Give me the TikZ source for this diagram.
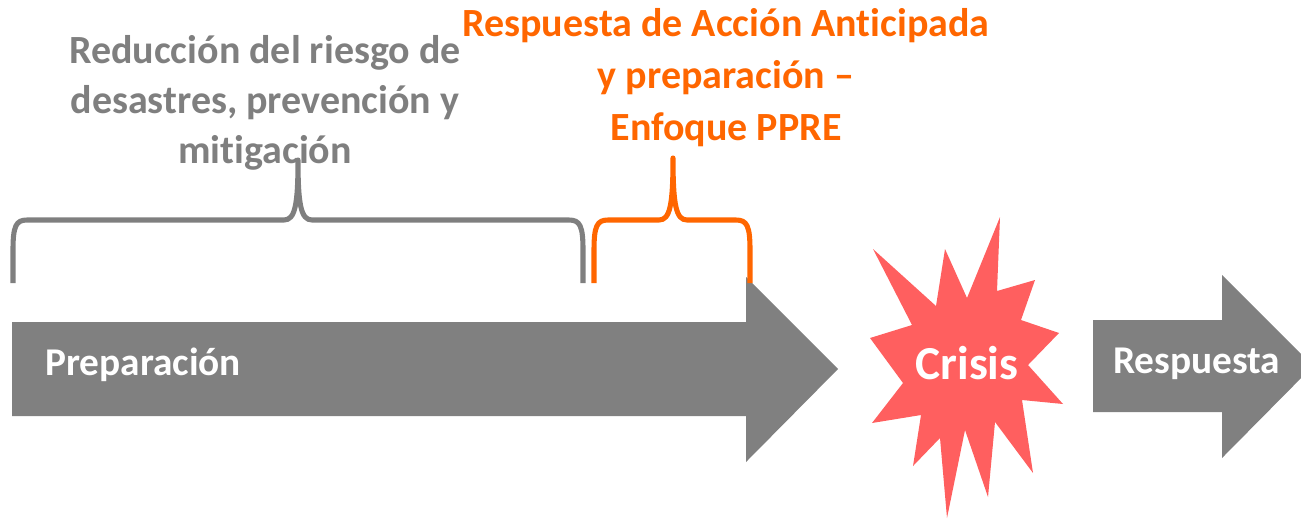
\documentclass[tikz,border=0pt]{standalone}
\usepackage{fontspec}
\setmainfont{Carlito}[Ligatures=NoCommon]
\definecolor{arrowgray}{HTML}{808080}
\definecolor{textgray}{HTML}{7F7F7F}
\definecolor{ppreorange}{HTML}{FF6600}
\definecolor{crisisred}{HTML}{FF5F5F}
\tikzset{
  bigarrow/.style={fill=arrowgray, draw=none},
  bracegray/.style={draw=textgray, line width=3.8pt, line join=round},
  braceorange/.style={draw=ppreorange, line width=3.8pt, line join=round},
  graytext/.style={text=textgray, font=\bfseries\fontsize{30}{37.5}\selectfont, align=center, inner sep=0pt},
  orangetext/.style={text=ppreorange, font=\bfseries\fontsize{30}{39}\selectfont, align=center, inner sep=0pt},
  whitetext/.style={text=white, font=\bfseries, inner sep=0pt},
}
\begin{document}
\begin{tikzpicture}[x=0.75pt,y=-0.75pt]
\useasboundingbox (0,0) rectangle (1301,519);
\clip (0,0) rectangle (1301,519);
% main arrow
\path[bigarrow] (12,322) -- (746,322) -- (746,277) -- (838,369) -- (746,462) -- (746,416) -- (12,416) -- cycle;
\node[whitetext, anchor=base west, font=\bfseries\fontsize{29.5}{30}\selectfont] (prep) at (45,375) {Preparación};
% respuesta arrow
\path[bigarrow] (1093,320) -- (1222,320) -- (1222,275) -- (1313,366) -- (1222,458) -- (1222,412) -- (1093,412) -- cycle;
\node[whitetext, anchor=base west, font=\bfseries\fontsize{29.5}{30}\selectfont] (resp) at (1113,373) {Respuesta};
% crisis star
\path[fill=crisisred] (873,249) -- (936,306) -- (945,249) -- (967,298) -- (1000,217) -- (997,291)
  -- (1035,280) -- (1021,320) -- (1059,333) -- (1028,365) -- (1063,404) -- (1022,400)
  -- (1033,473) -- (995,422) -- (988,497) -- (965,430) -- (947,518) -- (940,438)
  -- (913,466) -- (921,415) -- (872,423) -- (903,383) -- (870,338) -- (912,325) -- cycle;
\node[whitetext, anchor=base, font=\bfseries\fontsize{35.5}{38}\selectfont] (crisis) at (967,379) {Crisis};
% gray brace
\coordinate (gl) at (13,283);
\coordinate (gtip) at (298,160);
\coordinate (gr) at (583,283);
\draw[bracegray] (gl) -- (13,250) .. controls (13,226) and (16,220) .. (27,220) -- (284,220)
  .. controls (295,220) and (298,205) .. (gtip)
  .. controls (298,205) and (301,220) .. (312,220) -- (569,220)
  .. controls (580,220) and (583,226) .. (583,250) -- (gr);
% orange brace
\coordinate (ol) at (594,283);
\coordinate (otip) at (673,158);
\coordinate (or) at (750,283);
\draw[braceorange] (ol) -- (594,250) .. controls (594,226) and (597,220) .. (608,220) -- (659,220)
  .. controls (670,220) and (673,205) .. (otip)
  .. controls (673,205) and (676,220) .. (687,220) -- (736,220)
  .. controls (747,220) and (750,226) .. (750,250) -- (or);
% texts
\node[graytext] (drr) at (265,103) {Reducción del riesgo de\\desastres, prevención y\\mitigación};
\node[orangetext] (ppre) at (726,78) {Respuesta de Acción Anticipada\\y preparación –\\Enfoque PPRE};
\end{tikzpicture}
\end{document}
